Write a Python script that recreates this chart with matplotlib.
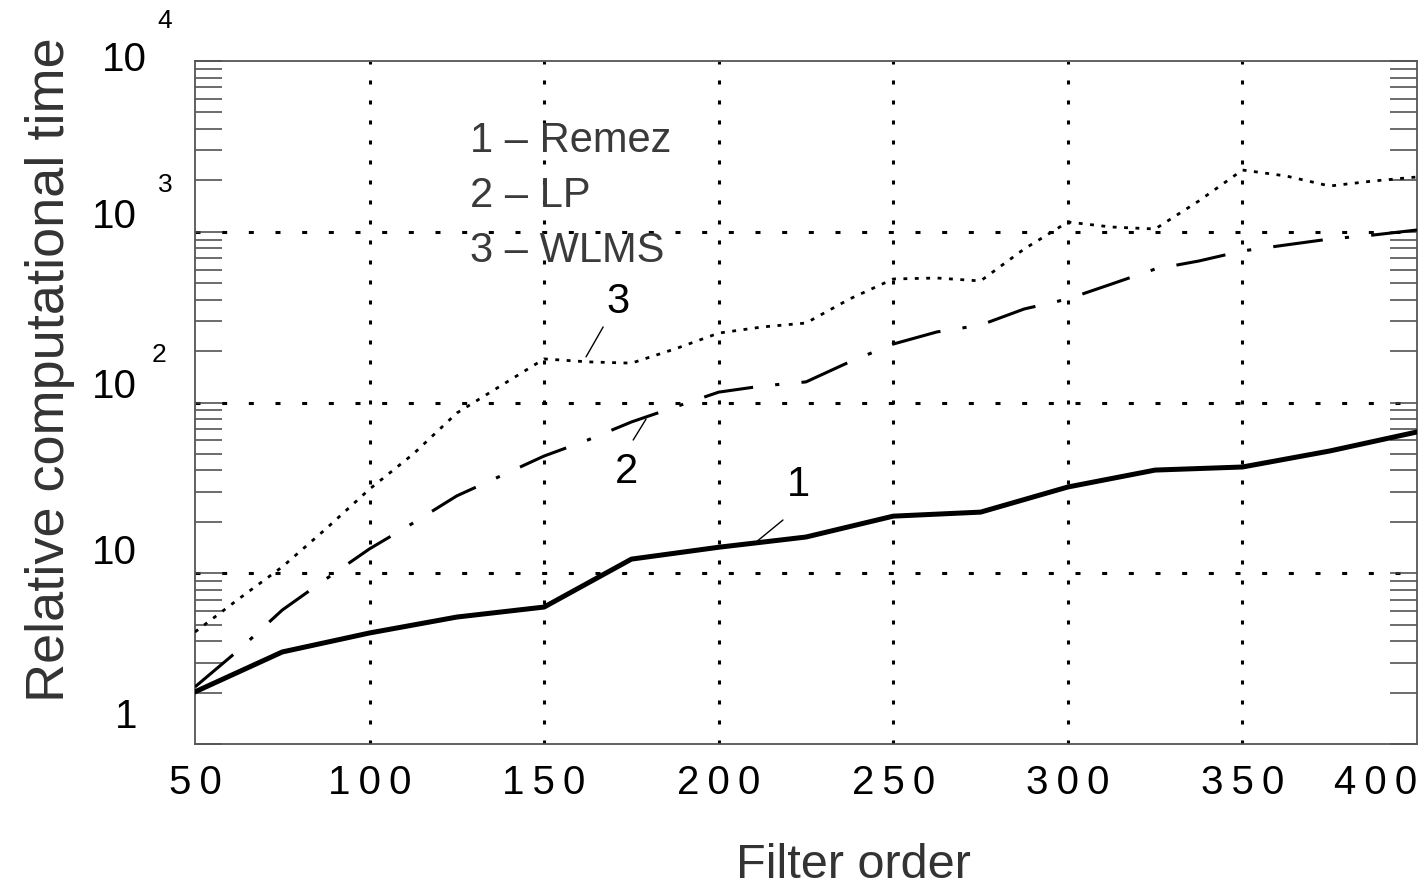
import matplotlib.pyplot as plt
from matplotlib.ticker import FixedLocator, LogLocator, NullFormatter

plt.rcParams['font.family'] = ['Liberation Sans', 'DejaVu Sans']
plt.rcParams['lines.scale_dashes'] = False

# filter orders
order_coarse = [50, 75, 100, 125, 150, 175, 200, 225, 250, 275, 300, 325, 350, 375, 400]
order_fine = [50, 62.5, 75, 87.5, 100, 112.5, 125, 137.5, 150, 162.5, 175, 187.5, 200,
              212.5, 225, 237.5, 250, 262.5, 275, 287.5, 300, 312.5, 325, 337.5, 350,
              362.5, 375, 387.5, 400]

# relative computational time
remez = [2.02, 3.46, 4.47, 5.54, 6.34, 12.1, 14.2, 16.3, 21.6, 22.8, 32.0, 40.2, 41.9, 52.0, 67.2]
lp = [2.16, 3.55, 6.09, 9.25, 13.9, 19.7, 28.4, 37.1, 48.6, 60.3, 76.9, 94.1, 115,
      125, 132, 173, 220, 259, 284, 353, 404, 494, 605, 674, 772, 837, 907, 957, 1024]
wlms = [4.53, 7.07, 10.9, 18.2, 31.1, 49.9, 86.8, 125, 180, 173, 170, 206, 255,
        277, 292, 404, 529, 536, 515, 793, 1140, 1066, 1038, 1514, 2299, 2121, 1853, 1983, 2093]

x_ticks = [50, 100, 150, 200, 250, 300, 350, 400]
y_ticks = [1, 10, 100, 1000, 10000]
y_exponents = ['', '', '2', '3', '4']
legend_lines = ['1 \u2013 Remez', '2 \u2013 LP', '3 \u2013 WLMS']

W, H = 1427, 887
fig = plt.figure(figsize=(W / 100, H / 100), dpi=100)
ax = fig.add_axes([195 / W, 142 / H, 1222 / W, 683 / H])
ax.set_yscale('log')
ax.set_xlim(50, 400)
ax.set_ylim(1, 1e4)

# dotted grid (only inner lines)
for xv in x_ticks[1:-1]:
    ax.axvline(xv, color='k', lw=2.2, ls=(0, (2.9, 11.5)), zorder=1)
for yv in y_ticks[1:-1]:
    ax.axhline(yv, color='k', lw=2.2, ls=(0, (3.6, 15.6)), zorder=1)

# curves
ax.plot(order_coarse, remez, color='k', lw=3.6, zorder=3)
ax.plot(order_fine, lp, color='k', lw=2.2, ls=(0, (36, 16, 3, 16)), zorder=3)
ax.plot(order_fine, wlms, color='k', lw=2.0, ls=(0, (2.8, 5.4)), zorder=3)

# ticks
ax.set_xticks(x_ticks)
xlabels = ['\u2009'.join(str(v)) for v in x_ticks]
ax.set_xticklabels(xlabels)
ax.tick_params(axis='x', length=0, pad=14, labelsize=29, labelcolor='k')
ax.get_xticklabels()[-1].set_ha('right')

ax.yaxis.set_major_locator(FixedLocator(y_ticks))
ax.yaxis.set_minor_locator(LogLocator(base=10, subs=range(2, 10)))
ax.yaxis.set_major_formatter(NullFormatter())
ax.yaxis.set_minor_formatter(NullFormatter())
ax.tick_params(axis='y', which='both', direction='in', length=19.5, width=1.1,
               color='#444444', left=True, right=True)

# y tick labels with detached exponents (old style)
rise = [28, 21, 16, 16, 2]
shift = [0, 0, 0, 0, 10]
for yv, ex, r, s in zip(y_ticks, y_exponents, rise, shift):
    base = '1' if yv == 1 else '10'
    ax.annotate(base, xy=(0, yv), xycoords=('axes fraction', 'data'),
                xytext=((-58 + s) * 0.72, r * 0.72), textcoords='offset points',
                ha='right', va='center', fontsize=29, color='k')
    if ex:
        ax.annotate(ex, xy=(0, yv), xycoords=('axes fraction', 'data'),
                    xytext=((-30 - (6 if ex == '2' else 0)) * 0.72, (48 - (7 if ex == '4' else 0)) * 0.72),
                    textcoords='offset points', ha='center', va='center',
                    fontsize=19, color='k')

for sp in ax.spines.values():
    sp.set_color('#555555')
    sp.set_linewidth(1.3)

# text legend
for i, txt in enumerate(legend_lines):
    ax.text(0.225, 0.884 - i * 0.080, txt, transform=ax.transAxes, ha='left', va='center',
            fontsize=30, color='#3a3a3a')

# curve labels with leader lines
leaders = [('1', (211, 15.4), (218.4, 20.5), (222.7, 33.3)),
           ('2', (179.2, 80), (175.5, 60.3), (173.5, 39.7)),
           ('3', (162, 185), (166.9, 277), (171.2, 393))]
for lab, p0, p1, pt in leaders:
    ax.annotate('', xy=p0, xytext=p1,
                arrowprops=dict(arrowstyle='-', lw=1.0, color='k', shrinkA=0, shrinkB=0))
    ax.text(pt[0], pt[1], lab, ha='center', va='center', fontsize=30, color='k')

fig.text(853 / W, 1 - 866 / H, 'Filter order', ha='center', va='center',
         fontsize=35, color='#333333')
fig.text(50 / W, 1 - 370 / H, 'Relative computational time', ha='center', va='center',
         rotation=90, fontsize=39, color='#333333')

fig.savefig('out.png', dpi=100)
